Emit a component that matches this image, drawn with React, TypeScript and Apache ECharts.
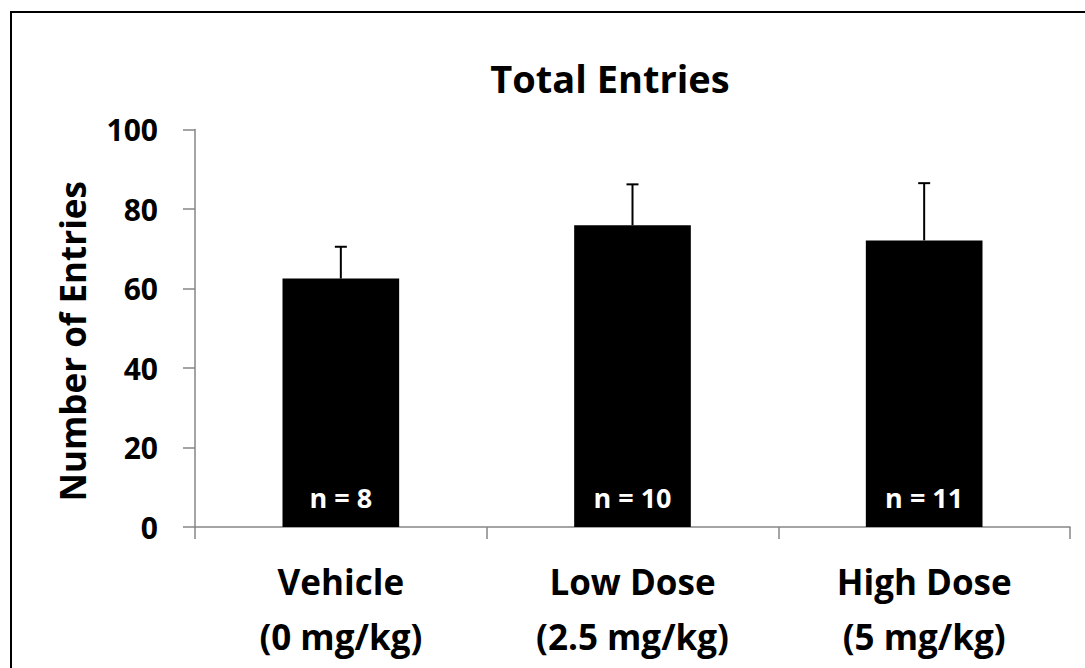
import React, { useEffect, useRef } from "react";
import * as echarts from "echarts";

const categories = ["Vehicle\n(0 mg/kg)", "Low Dose\n(2.5 mg/kg)", "High Dose\n(5 mg/kg)"];
const means = [62.5, 75.9, 72.1];
const errorUpper = [70.5, 86.2, 86.5];
const nLabels = ["n = 8", "n = 10", "n = 11"];
const yTicks = { min: 0, max: 100, interval: 20 };

const FONT = "Open Sans";

export default function App() {
  const ref = useRef<HTMLDivElement>(null);
  useEffect(() => {
    if (!ref.current) return;
    const chart = echarts.init(ref.current, undefined, { renderer: "svg" });
    const errData = means.map((m, i) => [i, m, errorUpper[i]]);
    chart.setOption({
      animation: false,
      backgroundColor: "#ffffff",
      title: {
        text: "Total Entries",
        left: 605,
        top: 54,
        textAlign: "center",
        textStyle: { fontFamily: FONT, fontWeight: "bold", fontSize: 38, color: "#000" },
      },
      graphic: [
        {
          type: "rect",
          shape: { x: 11, y: 12, width: 1300, height: 900 },
          style: { fill: "none", stroke: "#000", lineWidth: 2 },
          silent: true,
        },
      ],
      grid: { left: 195, right: 15, top: 129.5, bottom: 141, containLabel: false },
      xAxis: {
        type: "category",
        data: categories,
        boundaryGap: true,
        axisLine: { show: true, lineStyle: { color: "#868686", width: 1.5 } },
        axisTick: { show: true, length: 12, interval: 0, lineStyle: { color: "#868686", width: 1.5 } },
        axisLabel: {
          margin: 27,
          interval: 0,
          fontFamily: FONT,
          fontWeight: "bold",
          fontSize: 35,
          lineHeight: 55,
          color: "#000",
        },
      },
      yAxis: {
        type: "value",
        min: yTicks.min,
        max: yTicks.max,
        interval: yTicks.interval,
        name: "Number of Entries",
        nameLocation: "middle",
        nameGap: 105,
        nameTextStyle: {
          fontFamily: FONT,
          fontWeight: "bold",
          fontSize: 35,
          color: "#000",
          padding: [0, 26, 0, 0],
        },
        splitLine: { show: false },
        axisLine: { show: true, lineStyle: { color: "#868686", width: 1.5 } },
        axisTick: { show: true, length: 12, lineStyle: { color: "#868686", width: 1.5 } },
        axisLabel: { margin: 37, fontFamily: FONT, fontWeight: "bold", fontSize: 30, color: "#000" },
      },
      series: [
        {
          type: "bar",
          data: means,
          barWidth: "40%",
          itemStyle: { color: "#000" },
          label: {
            show: true,
            position: "insideBottom",
            distance: 16,
            formatter: (p: any) => nLabels[p.dataIndex],
            color: "#fff",
            fontFamily: FONT,
            fontWeight: "bold",
            fontSize: 27,
          },
          z: 2,
        },
        {
          type: "custom",
          data: errData,
          z: 3,
          renderItem: (params: any, api: any) => {
            const idx = api.value(0);
            const base = api.coord([idx, api.value(1)]);
            const top = api.coord([idx, api.value(2)]);
            const half = 6;
            return {
              type: "group",
              children: [
                {
                  type: "line",
                  shape: { x1: base[0], y1: base[1], x2: top[0], y2: top[1] },
                  style: { stroke: "#000", lineWidth: 2 },
                },
                {
                  type: "line",
                  shape: { x1: top[0] - half, y1: top[1], x2: top[0] + half, y2: top[1] },
                  style: { stroke: "#000", lineWidth: 2 },
                },
              ],
            };
          },
        },
      ],
    });
    return () => chart.dispose();
  }, []);
  return (
    <div
      ref={ref}
      style={{ position: "absolute", left: 0, top: 0, width: 1085, height: 668, background: "#fff" }}
    />
  );
}
